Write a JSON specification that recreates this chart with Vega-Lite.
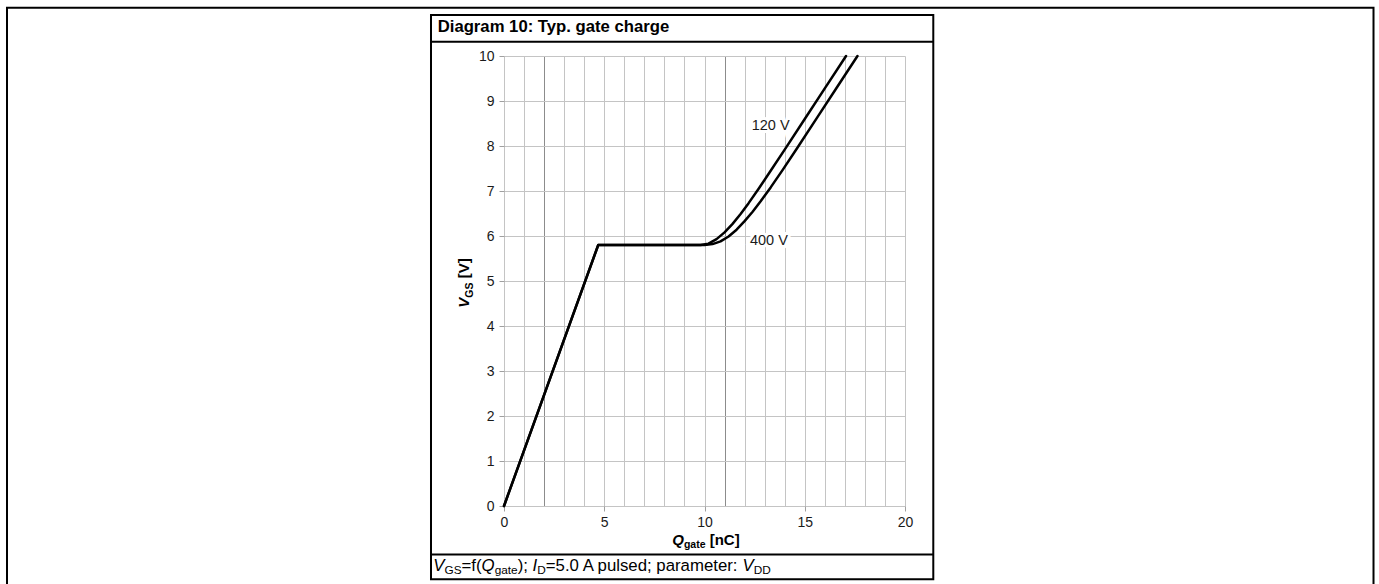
{
  "$schema": "https://vega.github.io/schema/vega-lite/v6.json",
  "width": 401,
  "height": 450,
  "autosize": {"type": "none"},
  "padding": {"left": 504, "top": 56, "right": 474, "bottom": 78},
  "background": "white",
  "config": {"view": {"stroke": null}, "font": "Liberation Sans"},
  "resolve": {"axis": {"x": "independent", "y": "independent"}},
  "datasets": {
    "curves": [
      {"series": "120 V", "q": 0, "v": 0},
      {"series": "120 V", "q": 4.7, "v": 5.8},
      {"series": "120 V", "q": 9.8, "v": 5.8},
      {"series": "120 V", "q": 10.2, "v": 5.83},
      {"series": "120 V", "q": 10.6, "v": 5.93},
      {"series": "120 V", "q": 11.0, "v": 6.08},
      {"series": "120 V", "q": 11.4, "v": 6.27},
      {"series": "120 V", "q": 11.8, "v": 6.49},
      {"series": "120 V", "q": 12.2, "v": 6.73},
      {"series": "120 V", "q": 12.7, "v": 7.05},
      {"series": "120 V", "q": 13.3, "v": 7.45},
      {"series": "120 V", "q": 14.0, "v": 7.92},
      {"series": "120 V", "q": 15.0, "v": 8.6},
      {"series": "120 V", "q": 16.0, "v": 9.28},
      {"series": "120 V", "q": 17.06, "v": 10.0},
      {"series": "400 V", "q": 0, "v": 0},
      {"series": "400 V", "q": 4.7, "v": 5.8},
      {"series": "400 V", "q": 10.0, "v": 5.8},
      {"series": "400 V", "q": 10.4, "v": 5.82},
      {"series": "400 V", "q": 10.8, "v": 5.88},
      {"series": "400 V", "q": 11.2, "v": 5.99},
      {"series": "400 V", "q": 11.6, "v": 6.14},
      {"series": "400 V", "q": 12.0, "v": 6.33},
      {"series": "400 V", "q": 12.4, "v": 6.54},
      {"series": "400 V", "q": 12.8, "v": 6.77},
      {"series": "400 V", "q": 13.3, "v": 7.08},
      {"series": "400 V", "q": 13.9, "v": 7.47},
      {"series": "400 V", "q": 14.6, "v": 7.94},
      {"series": "400 V", "q": 15.6, "v": 8.62},
      {"series": "400 V", "q": 16.6, "v": 9.3},
      {"series": "400 V", "q": 17.63, "v": 10.0}
    ]
  },
  "data": {"values": [{}]},
  "layer": [
    {
      "data": {"name": "curves"},
      "mark": {"type": "line", "color": "black", "strokeWidth": 2.5, "strokeJoin": "round", "strokeCap": "round"},
      "encoding": {
        "x": {
          "field": "q", "type": "quantitative",
          "scale": {"domain": [0, 20], "nice": false, "zero": false},
          "axis": {
            "values": [0,1,2,3,4,5,6,7,8,9,10,11,12,13,14,15,16,17,18,19,20],
            "format": "d",
            "labelExpr": "datum.value % 5 === 0 ? datum.label : ''",
            "labelFlush": false, "labelOverlap": false,
            "labelFont": "Liberation Sans", "labelFontSize": 14, "labelColor": "#1a1a1a", "labelPadding": 4,
            "tickSize": 5, "tickColor": "#a0a0a0",
            "tickOpacity": {"condition": {"test": "datum.value % 5 === 0", "value": 1}, "value": 0},
            "grid": true,
            "gridColor": {"condition": {"test": "datum.value === 2 || datum.value === 11", "value": "#8c8c8c"}, "value": "#c4c4c4"},
            "gridWidth": 1, "domain": false, "title": null, "zindex": 0
          }
        },
        "y": {
          "field": "v", "type": "quantitative",
          "scale": {"domain": [0, 10], "nice": false, "zero": false},
          "axis": {
            "values": [0,0.5,1,1.5,2,2.5,3,3.5,4,4.5,5,5.5,6,6.5,7,7.5,8,8.5,9,9.5,10],
            "format": "d",
            "labelExpr": "datum.value % 1 === 0 ? datum.label : ''",
            "labelFlush": false, "labelOverlap": false,
            "labelFont": "Liberation Sans", "labelFontSize": 14, "labelColor": "#1a1a1a", "labelPadding": 5,
            "tickSize": 5, "tickColor": "#a0a0a0",
            "tickOpacity": {"condition": {"test": "datum.value % 1 === 0", "value": 1}, "value": 0},
            "grid": true, "gridColor": "#c4c4c4", "gridWidth": 1,
            "domain": false, "title": null, "zindex": 0
          }
        },
        "detail": {"field": "series", "type": "nominal"}
      }
    },
    {
      "mark": {"type": "rect", "fill": "white", "fillOpacity": 0, "stroke": "black", "strokeWidth": 2},
      "encoding": {
        "x": {"datum": -24.788, "type": "quantitative", "axis": null},
        "x2": {"datum": 43.367},
        "y": {"datum": 11.073, "type": "quantitative", "axis": null},
        "y2": {"datum": -2.0}
      }
    },
    {
      "mark": {"type": "rect", "fill": "white", "fillOpacity": 0, "stroke": "black", "strokeWidth": 2},
      "encoding": {
        "x": {"datum": -3.641, "type": "quantitative", "axis": null},
        "x2": {"datum": 21.411},
        "y": {"datum": 10.911, "type": "quantitative", "axis": null},
        "y2": {"datum": -1.629}
      }
    },
    {
      "mark": {"type": "rule", "color": "black", "strokeWidth": 2},
      "encoding": {
        "x": {"datum": -3.641, "type": "quantitative", "axis": null},
        "x2": {"datum": 21.411},
        "y": {"datum": 10.318, "type": "quantitative", "axis": null}
      }
    },
    {
      "mark": {"type": "rule", "color": "black", "strokeWidth": 2},
      "encoding": {
        "x": {"datum": -3.641, "type": "quantitative", "axis": null},
        "x2": {"datum": 21.411},
        "y": {"datum": -1.078, "type": "quantitative", "axis": null}
      }
    },
    {
      "mark": {"type": "text", "text": "120 V", "fontSize": 14.5, "align": "left", "baseline": "alphabetic", "color": "white", "stroke": "white", "strokeWidth": 6},
      "encoding": {"x": {"datum": 12.356, "type": "quantitative", "axis": null}, "y": {"datum": 8.356, "type": "quantitative", "axis": null}}
    },
    {
      "mark": {"type": "text", "text": "120 V", "fontSize": 14.5, "align": "left", "baseline": "alphabetic", "color": "#1a1a1a"},
      "encoding": {"x": {"datum": 12.356, "type": "quantitative", "axis": null}, "y": {"datum": 8.356, "type": "quantitative", "axis": null}}
    },
    {
      "mark": {"type": "text", "text": "400 V", "fontSize": 14.5, "align": "left", "baseline": "alphabetic", "color": "white", "stroke": "white", "strokeWidth": 6},
      "encoding": {"x": {"datum": 12.269, "type": "quantitative", "axis": null}, "y": {"datum": 5.8, "type": "quantitative", "axis": null}}
    },
    {
      "mark": {"type": "text", "text": "400 V", "fontSize": 14.5, "align": "left", "baseline": "alphabetic", "color": "#1a1a1a"},
      "encoding": {"x": {"datum": 12.269, "type": "quantitative", "axis": null}, "y": {"datum": 5.8, "type": "quantitative", "axis": null}}
    },
    {
      "mark": {"type": "text", "text": "Diagram 10: Typ. gate charge", "fontSize": 16.7, "fontWeight": "bold", "align": "left", "baseline": "alphabetic", "color": "black"},
      "encoding": {"x": {"datum": -3.307, "type": "quantitative", "axis": null}, "y": {"datum": 10.533, "type": "quantitative", "axis": null}}
    },
    {
      "mark": {"type": "text", "text": "Q", "fontSize": 15, "fontWeight": "bold", "fontStyle": "italic", "align": "left", "baseline": "alphabetic", "color": "black"},
      "encoding": {"x": {"datum": 8.389, "type": "quantitative", "axis": null}, "y": {"datum": -0.867, "type": "quantitative", "axis": null}}
    },
    {
      "mark": {"type": "text", "text": "gate", "fontSize": 10.5, "fontWeight": "bold", "align": "left", "baseline": "alphabetic", "color": "black"},
      "encoding": {"x": {"datum": 8.973, "type": "quantitative", "axis": null}, "y": {"datum": -0.933, "type": "quantitative", "axis": null}}
    },
    {
      "mark": {"type": "text", "text": "[nC]", "fontSize": 15, "fontWeight": "bold", "align": "left", "baseline": "alphabetic", "color": "black"},
      "encoding": {"x": {"datum": 10.26, "type": "quantitative", "axis": null}, "y": {"datum": -0.867, "type": "quantitative", "axis": null}}
    },
    {
      "mark": {"type": "text", "text": "V", "angle": 270, "fontSize": 15, "fontWeight": "bold", "fontStyle": "italic", "align": "left", "baseline": "alphabetic", "color": "black"},
      "encoding": {"x": {"datum": -1.721, "type": "quantitative", "axis": null}, "y": {"datum": 4.407, "type": "quantitative", "axis": null}}
    },
    {
      "mark": {"type": "text", "text": "GS", "angle": 270, "fontSize": 10.5, "fontWeight": "bold", "align": "left", "baseline": "alphabetic", "color": "black"},
      "encoding": {"x": {"datum": -1.571, "type": "quantitative", "axis": null}, "y": {"datum": 4.629, "type": "quantitative", "axis": null}}
    },
    {
      "mark": {"type": "text", "text": "[V]", "angle": 270, "fontSize": 15, "fontWeight": "bold", "align": "left", "baseline": "alphabetic", "color": "black"},
      "encoding": {"x": {"datum": -1.721, "type": "quantitative", "axis": null}, "y": {"datum": 5.06, "type": "quantitative", "axis": null}}
    },
    {
      "mark": {"type": "text", "text": "V", "fontSize": 16.8, "fontStyle": "italic", "align": "left", "baseline": "alphabetic", "color": "black"},
      "encoding": {"x": {"datum": -3.526, "type": "quantitative", "axis": null}, "y": {"datum": -1.444, "type": "quantitative", "axis": null}}
    },
    {
      "mark": {"type": "text", "text": "GS", "fontSize": 11.8, "align": "left", "baseline": "alphabetic", "color": "black"},
      "encoding": {"x": {"datum": -2.968, "type": "quantitative", "axis": null}, "y": {"datum": -1.522, "type": "quantitative", "axis": null}}
    },
    {
      "mark": {"type": "text", "text": "=f(", "fontSize": 16.8, "align": "left", "baseline": "alphabetic", "color": "black"},
      "encoding": {"x": {"datum": -2.117, "type": "quantitative", "axis": null}, "y": {"datum": -1.444, "type": "quantitative", "axis": null}}
    },
    {
      "mark": {"type": "text", "text": "Q", "fontSize": 16.8, "fontStyle": "italic", "align": "left", "baseline": "alphabetic", "color": "black"},
      "encoding": {"x": {"datum": -1.116, "type": "quantitative", "axis": null}, "y": {"datum": -1.444, "type": "quantitative", "axis": null}}
    },
    {
      "mark": {"type": "text", "text": "gate", "fontSize": 11.8, "align": "left", "baseline": "alphabetic", "color": "black"},
      "encoding": {"x": {"datum": -0.464, "type": "quantitative", "axis": null}, "y": {"datum": -1.522, "type": "quantitative", "axis": null}}
    },
    {
      "mark": {"type": "text", "text": ");", "fontSize": 16.8, "align": "left", "baseline": "alphabetic", "color": "black"},
      "encoding": {"x": {"datum": 0.681, "type": "quantitative", "axis": null}, "y": {"datum": -1.444, "type": "quantitative", "axis": null}}
    },
    {
      "mark": {"type": "text", "text": "I", "fontSize": 16.8, "fontStyle": "italic", "align": "left", "baseline": "alphabetic", "color": "black"},
      "encoding": {"x": {"datum": 1.426, "type": "quantitative", "axis": null}, "y": {"datum": -1.444, "type": "quantitative", "axis": null}}
    },
    {
      "mark": {"type": "text", "text": "D", "fontSize": 11.8, "align": "left", "baseline": "alphabetic", "color": "black"},
      "encoding": {"x": {"datum": 1.659, "type": "quantitative", "axis": null}, "y": {"datum": -1.522, "type": "quantitative", "axis": null}}
    },
    {
      "mark": {"type": "text", "text": "=5.0 A pulsed; parameter:", "fontSize": 16.8, "align": "left", "baseline": "alphabetic", "color": "black"},
      "encoding": {"x": {"datum": 2.084, "type": "quantitative", "axis": null}, "y": {"datum": -1.444, "type": "quantitative", "axis": null}}
    },
    {
      "mark": {"type": "text", "text": "V", "fontSize": 16.8, "fontStyle": "italic", "align": "left", "baseline": "alphabetic", "color": "black"},
      "encoding": {"x": {"datum": 11.9, "type": "quantitative", "axis": null}, "y": {"datum": -1.444, "type": "quantitative", "axis": null}}
    },
    {
      "mark": {"type": "text", "text": "DD", "fontSize": 11.8, "align": "left", "baseline": "alphabetic", "color": "black"},
      "encoding": {"x": {"datum": 12.46, "type": "quantitative", "axis": null}, "y": {"datum": -1.522, "type": "quantitative", "axis": null}}
    }
  ]
}
